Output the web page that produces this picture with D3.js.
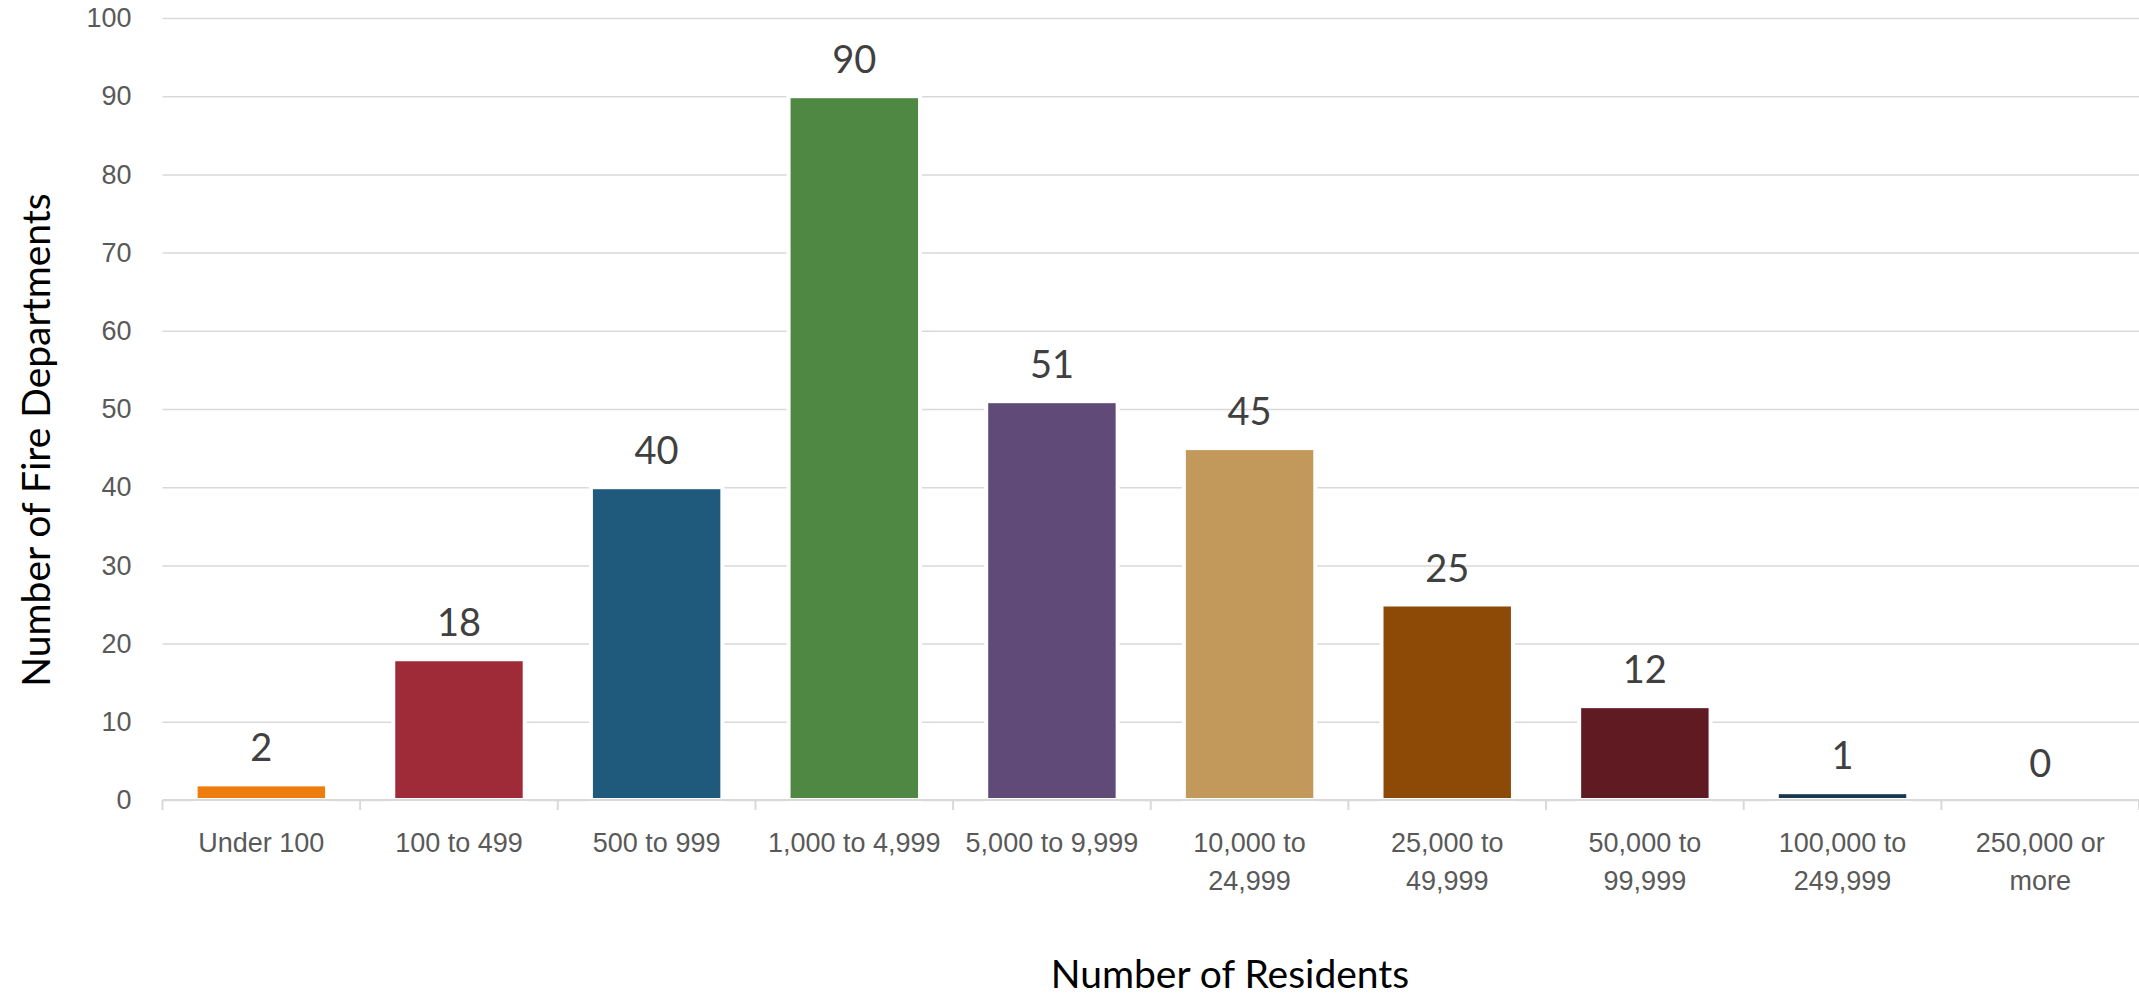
<!DOCTYPE html>
<html>
<head>
<meta charset="utf-8">
<script src="https://cdn.jsdelivr.net/npm/d3@7"></script>
<style>
    body { margin: 0; background: #fff; }
    svg { display: block; font-family: Lato, "Open Sans", sans-serif; }
    .grid line { stroke: #d9d9d9; stroke-width: 1.5; }
    .grid .domain { display: none; }
    .ylabels text { fill: #595959; font-size: 27px; }
    .xlabels text { fill: #595959; font-size: 27px; }
    .xlabels .domain { display: none; }
    .baseline, .boundary { stroke: #d9d9d9; stroke-width: 2; }
    .value { fill: #404040; font-size: 38px; text-anchor: middle; }
    .title { fill: #000; font-size: 39px; text-anchor: middle; }
</style>
</head>
<body>
<div id="container"></div>
<script>
const WIDTH = 2139;
const HEIGHT = 995;
const LEFT = 162.5;
const TOP = 18;
const BOTTOM_Y = 800;
const LINE_HEIGHT = 38;

var CATEGORIES = ["Under 100", "100 to 499", "500 to 999", "1,000 to 4,999", "5,000 to 9,999",
    "10,000 to 24,999", "25,000 to 49,999", "50,000 to 99,999", "100,000 to 249,999", "250,000 or more"];
var COUNTS = [2, 18, 40, 90, 51, 45, 25, 12, 1, 0];
var COLORS = ["#ee7d0e", "#a02b38", "#1f5a7d", "#4f8842", "#604a78",
    "#c3985b", "#8c4a06", "#5f1a22", "#17384f", "#7f7f7f"];
var Y_TICKS = [0, 10, 20, 30, 40, 50, 60, 70, 80, 90, 100];
var X_TITLE = "Number of Residents";
var Y_TITLE = "Number of Fire Departments";

var XScale = d3.scaleBand()
    .domain(CATEGORIES)
    .range([LEFT, WIDTH])
    .paddingInner(0.335)
    .paddingOuter(0.1675);

var YScale = d3.scaleLinear()
    .domain([0, 100])
    .range([BOTTOM_Y, TOP]);

var translate = function (x, y) {
    return "translate(" + x + "," + y + ")";
};

// split a label onto two lines when it does not fit in its slot
var wrapLabel = function (text, maxWidth) {
    text.each(function () {
        var label = d3.select(this);
        var full = label.text();
        var words = full.split(" ");
        var lines = [full];
        label.text(full);
        if (this.getComputedTextLength() > maxWidth) {
            var cut = words.length - 1;
            if (words.indexOf("to") >= 0) cut = words.indexOf("to") + 1;
            else if (words.indexOf("or") >= 0) cut = words.indexOf("or") + 1;
            lines = [words.slice(0, cut).join(" "), words.slice(cut).join(" ")];
        }
        label.text(null).attr("dy", null).attr("y", null);
        lines.forEach(function (line, i) {
            label.append("tspan")
                .attr("x", 0)
                .attr("y", 52 + i * LINE_HEIGHT)
                .text(line);
        });
    });
};

var drawGrid = function (svg) {
    svg.append("g")
        .attr("class", "grid")
        .attr("transform", translate(LEFT, 0))
        .call(d3.axisLeft(YScale).tickValues(Y_TICKS).tickSize(-(WIDTH - LEFT)).tickFormat(""));

    svg.append("g")
        .attr("class", "ylabels")
        .attr("transform", translate(LEFT, 0))
        .call(d3.axisLeft(YScale).tickValues(Y_TICKS).tickSize(0).tickPadding(31))
        .call(function (g) { g.select(".domain").remove(); });
};

var drawBars = function (svg) {
    var data = CATEGORIES.map(function (c, i) {
        return {cat: c, value: COUNTS[i], color: COLORS[i]};
    });

    svg.append("g").selectAll("rect")
        .data(data.filter(function (d) { return d.value > 0; }))
        .enter().append("rect")
        .attr("x", function (d) { return XScale(d.cat); })
        .attr("y", function (d) { return YScale(d.value); })
        .attr("width", XScale.bandwidth())
        .attr("height", function (d) { return YScale(0) - YScale(d.value); })
        .attr("fill", function (d) { return d.color; })
        .attr("stroke", "#fff")
        .attr("stroke-width", 4);

    svg.append("g").selectAll("text")
        .data(data)
        .enter().append("text")
        .attr("class", "value")
        .attr("x", function (d) { return XScale(d.cat) + XScale.bandwidth() / 2; })
        .attr("y", function (d) { return YScale(d.value) - 23; })
        .text(function (d) { return d.value; });
};

var drawXAxis = function (svg) {
    svg.append("line")
        .attr("class", "baseline")
        .attr("x1", LEFT)
        .attr("x2", WIDTH)
        .attr("y1", YScale(0))
        .attr("y2", YScale(0));

    var step = XScale.step();
    svg.append("g").selectAll("line")
        .data(d3.range(CATEGORIES.length + 1))
        .enter().append("line")
        .attr("class", "boundary")
        .attr("x1", function (i) { return LEFT + i * step; })
        .attr("x2", function (i) { return LEFT + i * step; })
        .attr("y1", YScale(0))
        .attr("y2", YScale(0) + 10);

    svg.append("g")
        .attr("class", "xlabels")
        .attr("transform", translate(0, YScale(0)))
        .call(d3.axisBottom(XScale).tickSize(0))
        .call(function (g) { g.selectAll("line").remove(); })
        .selectAll("text")
        .call(wrapLabel, step * 0.95);
};

var drawTitles = function (svg) {
    svg.append("text")
        .attr("class", "title")
        .attr("x", 1230)
        .attr("y", 988)
        .text(X_TITLE);

    svg.append("text")
        .attr("class", "title")
        .attr("transform", translate(50, 440) + " rotate(-90)")
        .text(Y_TITLE);
};

var generateChart = function () {
    var svg = d3.select("#container").append("svg")
        .attr("width", WIDTH)
        .attr("height", HEIGHT);
    drawGrid(svg);
    drawBars(svg);
    drawXAxis(svg);
    drawTitles(svg);
};

window.onload = generateChart;
</script>
</body>
</html>
